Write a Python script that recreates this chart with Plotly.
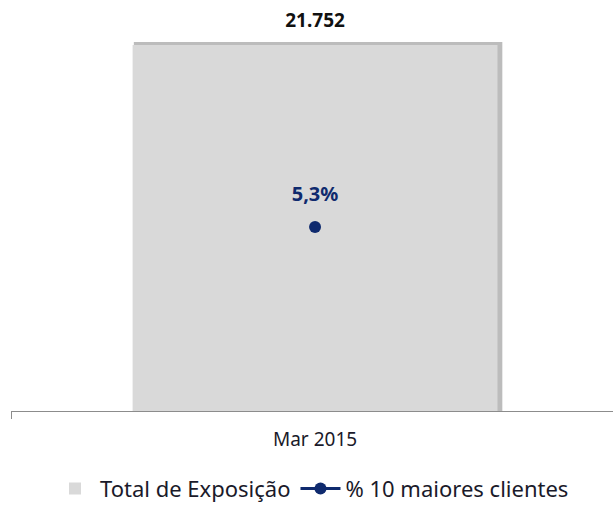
import plotly.graph_objects as go

categories = ["Mar 2015"]
total_exposicao = [21752]
pct_10_maiores = [0.053]
bar_labels = ["21.752"]
pct_labels = ["5,3%"]

FONT = "Noto Sans"
NAVY = "#0f2a6e"
TXT = "#1a1a2a"

fig = go.Figure()

# soft shadow behind the bar (same data, drawn on its own axis)
fig.add_trace(go.Bar(
    x=categories, y=total_exposicao, width=0.606, offset=-0.298,
    marker=dict(color="#bcbcbc", line=dict(width=0)),
    yaxis="y", showlegend=False, hoverinfo="skip",
))
fig.add_trace(go.Bar(
    x=categories, y=total_exposicao, width=0.600, offset=-0.300,
    name="Total de Exposição", yaxis="y2",
    marker=dict(color="#d9d9d9", line=dict(width=0)),
))
# bar value label
fig.add_trace(go.Scatter(
    x=categories, y=total_exposicao, yaxis="y2",
    mode="markers+text", showlegend=False, hoverinfo="skip",
    marker=dict(size=20, opacity=0),
    text=bar_labels, textposition="top center", cliponaxis=False,
    textfont=dict(family=FONT, size=19, color="#111111", weight="bold"),
))
fig.add_trace(go.Scatter(
    x=categories, y=pct_10_maiores, yaxis="y3",
    mode="lines+markers", name="% 10 maiores clientes",
    line=dict(color=NAVY, width=3),
    marker=dict(color=NAVY, size=12),
))
# percentage label
fig.add_trace(go.Scatter(
    x=categories, y=pct_10_maiores, yaxis="y3",
    mode="markers+text", showlegend=False, hoverinfo="skip",
    marker=dict(size=32, opacity=0),
    text=pct_labels, textposition="top center",
    textfont=dict(family=FONT, size=20, color=NAVY, weight="bold"),
))

R = 23832
fig.update_layout(
    width=613, height=506,
    margin=dict(l=11, r=0, t=10, b=95),
    plot_bgcolor="white", paper_bgcolor="white",
    barmode="overlay",
    font=dict(family=FONT, color=TXT),
    xaxis=dict(range=[-0.5, 0.49], showline=True, linecolor="#8c8c8c",
               linewidth=1, ticks="outside", tickson="boundaries",
               ticklen=7, tickcolor="#8c8c8c", tickwidth=1,
               tickfont=dict(size=19, color=TXT),
               showgrid=False, zeroline=False, ticklabelstandoff=11),
    yaxis=dict(range=[0, R * 0.992], visible=False, showgrid=False),
    yaxis2=dict(range=[0, R], overlaying="y", visible=False, showgrid=False),
    yaxis3=dict(range=[0, 0.1155], overlaying="y", visible=False, showgrid=False),
    legend=dict(orientation="h", x=0.5, xanchor="center",
                yref="container", y=0.034, yanchor="middle",
                font=dict(size=22, color=TXT), traceorder="normal",
                itemwidth=40),
)

fig.write_html("out.html")
